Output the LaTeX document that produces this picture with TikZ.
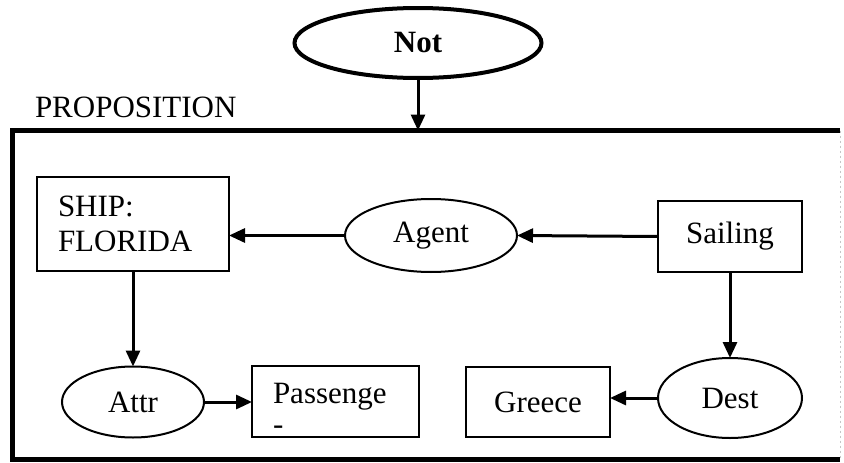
\documentclass[tikz,border=0pt]{standalone}
\usepackage{fontspec}
\setmainfont{Liberation Serif}
\usetikzlibrary{arrows.meta,shapes.geometric}
\begin{document}
\begin{tikzpicture}[x=1pt,y=-1pt,
  every node/.style={font=\fontsize{31}{35}\selectfont, inner sep=0pt, outer sep=0pt},
  box/.style={draw, line width=2pt, rectangle},
  oval/.style={draw, line width=2pt, ellipse},
  link/.style={line width=3pt, -{Triangle[length=16pt,width=14pt]}},
]
\useasboundingbox[fill=white] (0,0) rectangle (844,463);

% negation oval on top
\node[oval, line width=4pt, minimum width=247pt, minimum height=70pt,
      font=\fontsize{31}{35}\selectfont\bfseries] (not) at (418,43) {Not\hspace{12pt}};

% proposition frame
\node[minimum width=828pt, minimum height=329pt] (prop) at (426,295) {};
\draw[line width=5pt] (prop.north east) -- (prop.north west)
  -- (prop.south west) -- (prop.south east);
\draw[line width=1pt, gray!45, dash pattern=on 2pt off 3pt]
  (prop.north east) -- (prop.south east);
\node[anchor=base west] (title) at (35,117) {PROPOSITION};

% concepts and relations
\node[box, minimum width=192pt, minimum height=94pt, text width=150pt, align=left]
  (ship) at (133,224) {SHIP:\\FLORIDA};
\node[oval, minimum width=172pt, minimum height=73pt] (agent) at (431,235.5) {Agent\hspace{10pt}};
\node[box, minimum width=144pt, minimum height=71pt] (sailing) at (730,236.5) {Sailing\hspace{14pt}};
\node[oval, minimum width=142pt, minimum height=71pt] (attr) at (133,402) {Attr};
\node[box, minimum width=167pt, minimum height=71pt] (pass) at (335.5,401.5) {};
\node[anchor=base west] (passtext) at (273,403) {Passenge};
\node[anchor=base west] (passdash) at (273,434) {-};
\node[box, minimum width=144pt, minimum height=70pt] (greece) at (538,402) {Greece\hspace{14pt}};
\node[oval, minimum width=144pt, minimum height=80pt] (dest) at (730,398) {Dest};

% connectors
\draw[link] (not.south) -- (not.south |- prop.north);
\draw[link] (sailing.west) -- (agent.east);
\draw[link] (agent.west) -- (agent.west -| ship.east);
\draw[link] (ship.south) -- (attr.north);
\draw[link] (sailing.south) -- (dest.north);
\draw[link] (attr.east) -- (attr.east -| pass.west);
\draw[link] (dest.west) -- (dest.west -| greece.east);
\end{tikzpicture}
\end{document}
